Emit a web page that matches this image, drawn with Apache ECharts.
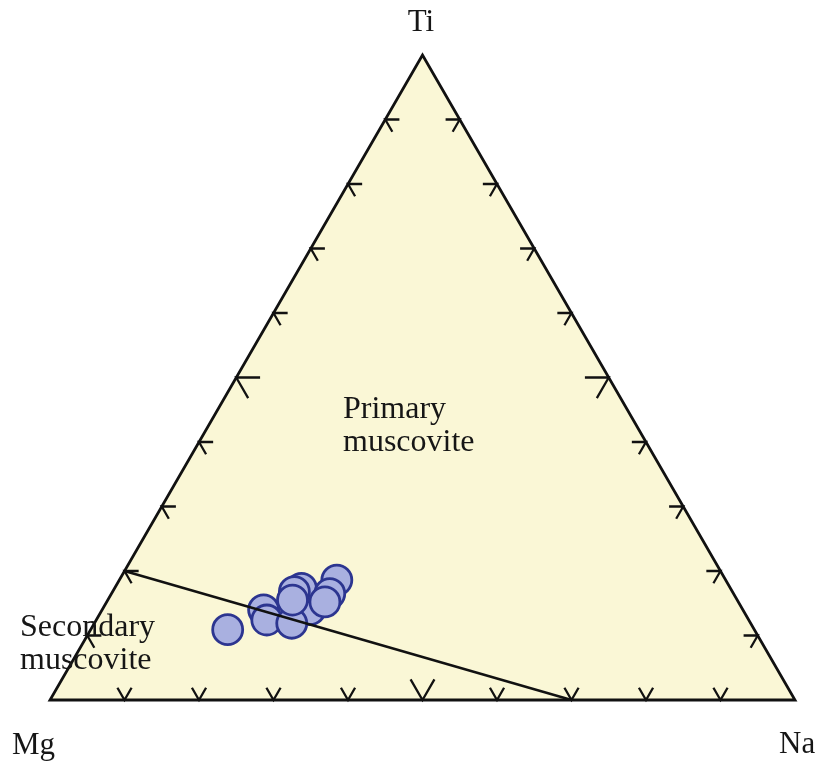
<!DOCTYPE html>
<html>
<head>
<meta charset="utf-8">
<script src="https://cdn.jsdelivr.net/npm/echarts@6/dist/echarts.min.js"></script>
<style>
  html, body { margin: 0; padding: 0; background: #ffffff; }
  #chart { width: 833px; height: 762px; }
</style>
</head>
<body>
<div id="chart"></div>
<script>
// Ternary Mg–Na–Ti diagram for muscovite compositions (fractions of Mg + Na + Ti)
const vertexNames = ['Mg', 'Na', 'Ti'];
const tickFractions = [0.1, 0.2, 0.3, 0.4, 0.5, 0.6, 0.7, 0.8, 0.9];

// boundary between primary and secondary muscovite fields
const boundaryMg = [0.8, 0.3];
const boundaryNa = [0.0, 0.7];
const boundaryTi = [0.2, 0.0];

// analysed muscovite grains
const sampleMg = [0.644, 0.581, 0.576, 0.588, 0.522, 0.542, 0.647, 0.616, 0.597, 0.555, 0.707];
const sampleNa = [0.217, 0.279, 0.251, 0.244, 0.292, 0.293, 0.229, 0.265, 0.248, 0.293, 0.184];
const sampleTi = [0.140, 0.140, 0.173, 0.168, 0.186, 0.165, 0.124, 0.119, 0.155, 0.152, 0.109];

const fieldLabels = ['Primary\nmuscovite', 'Secondary\nmuscovite'];

const H = Math.sqrt(3) / 2;
// ternary (Mg, Na, Ti) -> cartesian (x, y) with Mg at origin, Na at (1,0), Ti at apex
function toXY(mg, na, ti) {
  const s = mg + na + ti;
  const n = na / s, t = ti / s;
  return [n + t / 2, t * H];
}

// triangle corners
const corners = [toXY(1, 0, 0), toXY(0, 1, 0), toXY(0, 0, 1)];

// tick marks: each is [armEnd, vertexOnEdge, armEnd] following the two grid directions into the triangle
const SMALL = 0.019, BIG = 0.032;
const tickData = [];
tickFractions.forEach(f => {
  const d = Math.abs(f - 0.5) < 1e-9 ? BIG : SMALL;
  // bottom edge (Mg–Na), Na = f
  {
    const m = 1 - f, n = f;
    tickData.push([...toXY(m, n - d, d), ...toXY(m, n, 0), ...toXY(m - d, n, d)]);
  }
  // left edge (Mg–Ti), Ti = f
  {
    const m = 1 - f, t = f;
    tickData.push([...toXY(m - d, d, t), ...toXY(m, 0, t), ...toXY(m, d, t - d)]);
  }
  // right edge (Na–Ti), Ti = f
  {
    const n = 1 - f, t = f;
    tickData.push([...toXY(d, n - d, t), ...toXY(0, n, t), ...toXY(d, n, t - d)]);
  }
});

const boundaryData = boundaryMg.map((m, i) => toXY(m, boundaryNa[i], boundaryTi[i]));
const sampleData = sampleMg.map((m, i) => toXY(m, sampleNa[i], sampleTi[i]));

const chart = echarts.init(document.getElementById('chart'), null, { renderer: 'canvas' });

const serif = '"Liberation Serif", "DejaVu Serif", serif';
const textColor = '#161616';

chart.setOption({
  animation: false,
  backgroundColor: '#ffffff',
  grid: { left: 50, right: 38, top: 55, bottom: 62 },
  xAxis: { type: 'value', min: 0, max: 1, show: false },
  yAxis: { type: 'value', min: 0, max: H, show: false },
  series: [
    {
      // triangle field
      type: 'custom',
      z: 1,
      silent: true,
      data: [[0, 0]],
      renderItem: function (params, api) {
        const pts = corners.map(c => api.coord(c));
        return {
          type: 'polygon',
          shape: { points: pts },
          style: { fill: '#FAF7D6', stroke: '#111111', lineWidth: 2.8, lineJoin: 'miter' }
        };
      }
    },
    {
      // edge ticks
      type: 'custom',
      z: 2,
      silent: true,
      data: tickData,
      renderItem: function (params, api) {
        const p0 = api.coord([api.value(0), api.value(1)]);
        const p1 = api.coord([api.value(2), api.value(3)]);
        const p2 = api.coord([api.value(4), api.value(5)]);
        return {
          type: 'polyline',
          shape: { points: [p0, p1, p2] },
          style: { stroke: '#111111', lineWidth: 2.3, fill: null }
        };
      }
    },
    {
      type: 'scatter',
      z: 3,
      data: sampleData,
      symbol: 'circle',
      symbolSize: 30,
      itemStyle: { color: '#A9B0E0', borderColor: '#2C3590', borderWidth: 2.8, opacity: 1 }
    },
    {
      type: 'line',
      z: 4,
      data: boundaryData,
      symbol: 'none',
      lineStyle: { color: '#111111', width: 2.4 }
    }
  ],
  graphic: [
    { type: 'text', z: 10, style: { text: vertexNames[2], x: 421, y: 23, align: 'center', verticalAlign: 'middle', font: '31px ' + serif, fill: textColor } },
    { type: 'text', z: 10, style: { text: vertexNames[0], x: 12, y: 746, align: 'left', verticalAlign: 'middle', font: '31px ' + serif, fill: textColor } },
    { type: 'text', z: 10, style: { text: vertexNames[1], x: 779, y: 745, align: 'left', verticalAlign: 'middle', font: '31px ' + serif, fill: textColor } },
    { type: 'text', z: 10, style: { text: fieldLabels[0], x: 343, y: 393, align: 'left', verticalAlign: 'top', lineHeight: 33, font: '32px ' + serif, fill: textColor } },
    { type: 'text', z: 10, style: { text: fieldLabels[1], x: 20, y: 611, align: 'left', verticalAlign: 'top', lineHeight: 33, font: '32px ' + serif, fill: textColor } }
  ]
});
</script>
</body>
</html>
